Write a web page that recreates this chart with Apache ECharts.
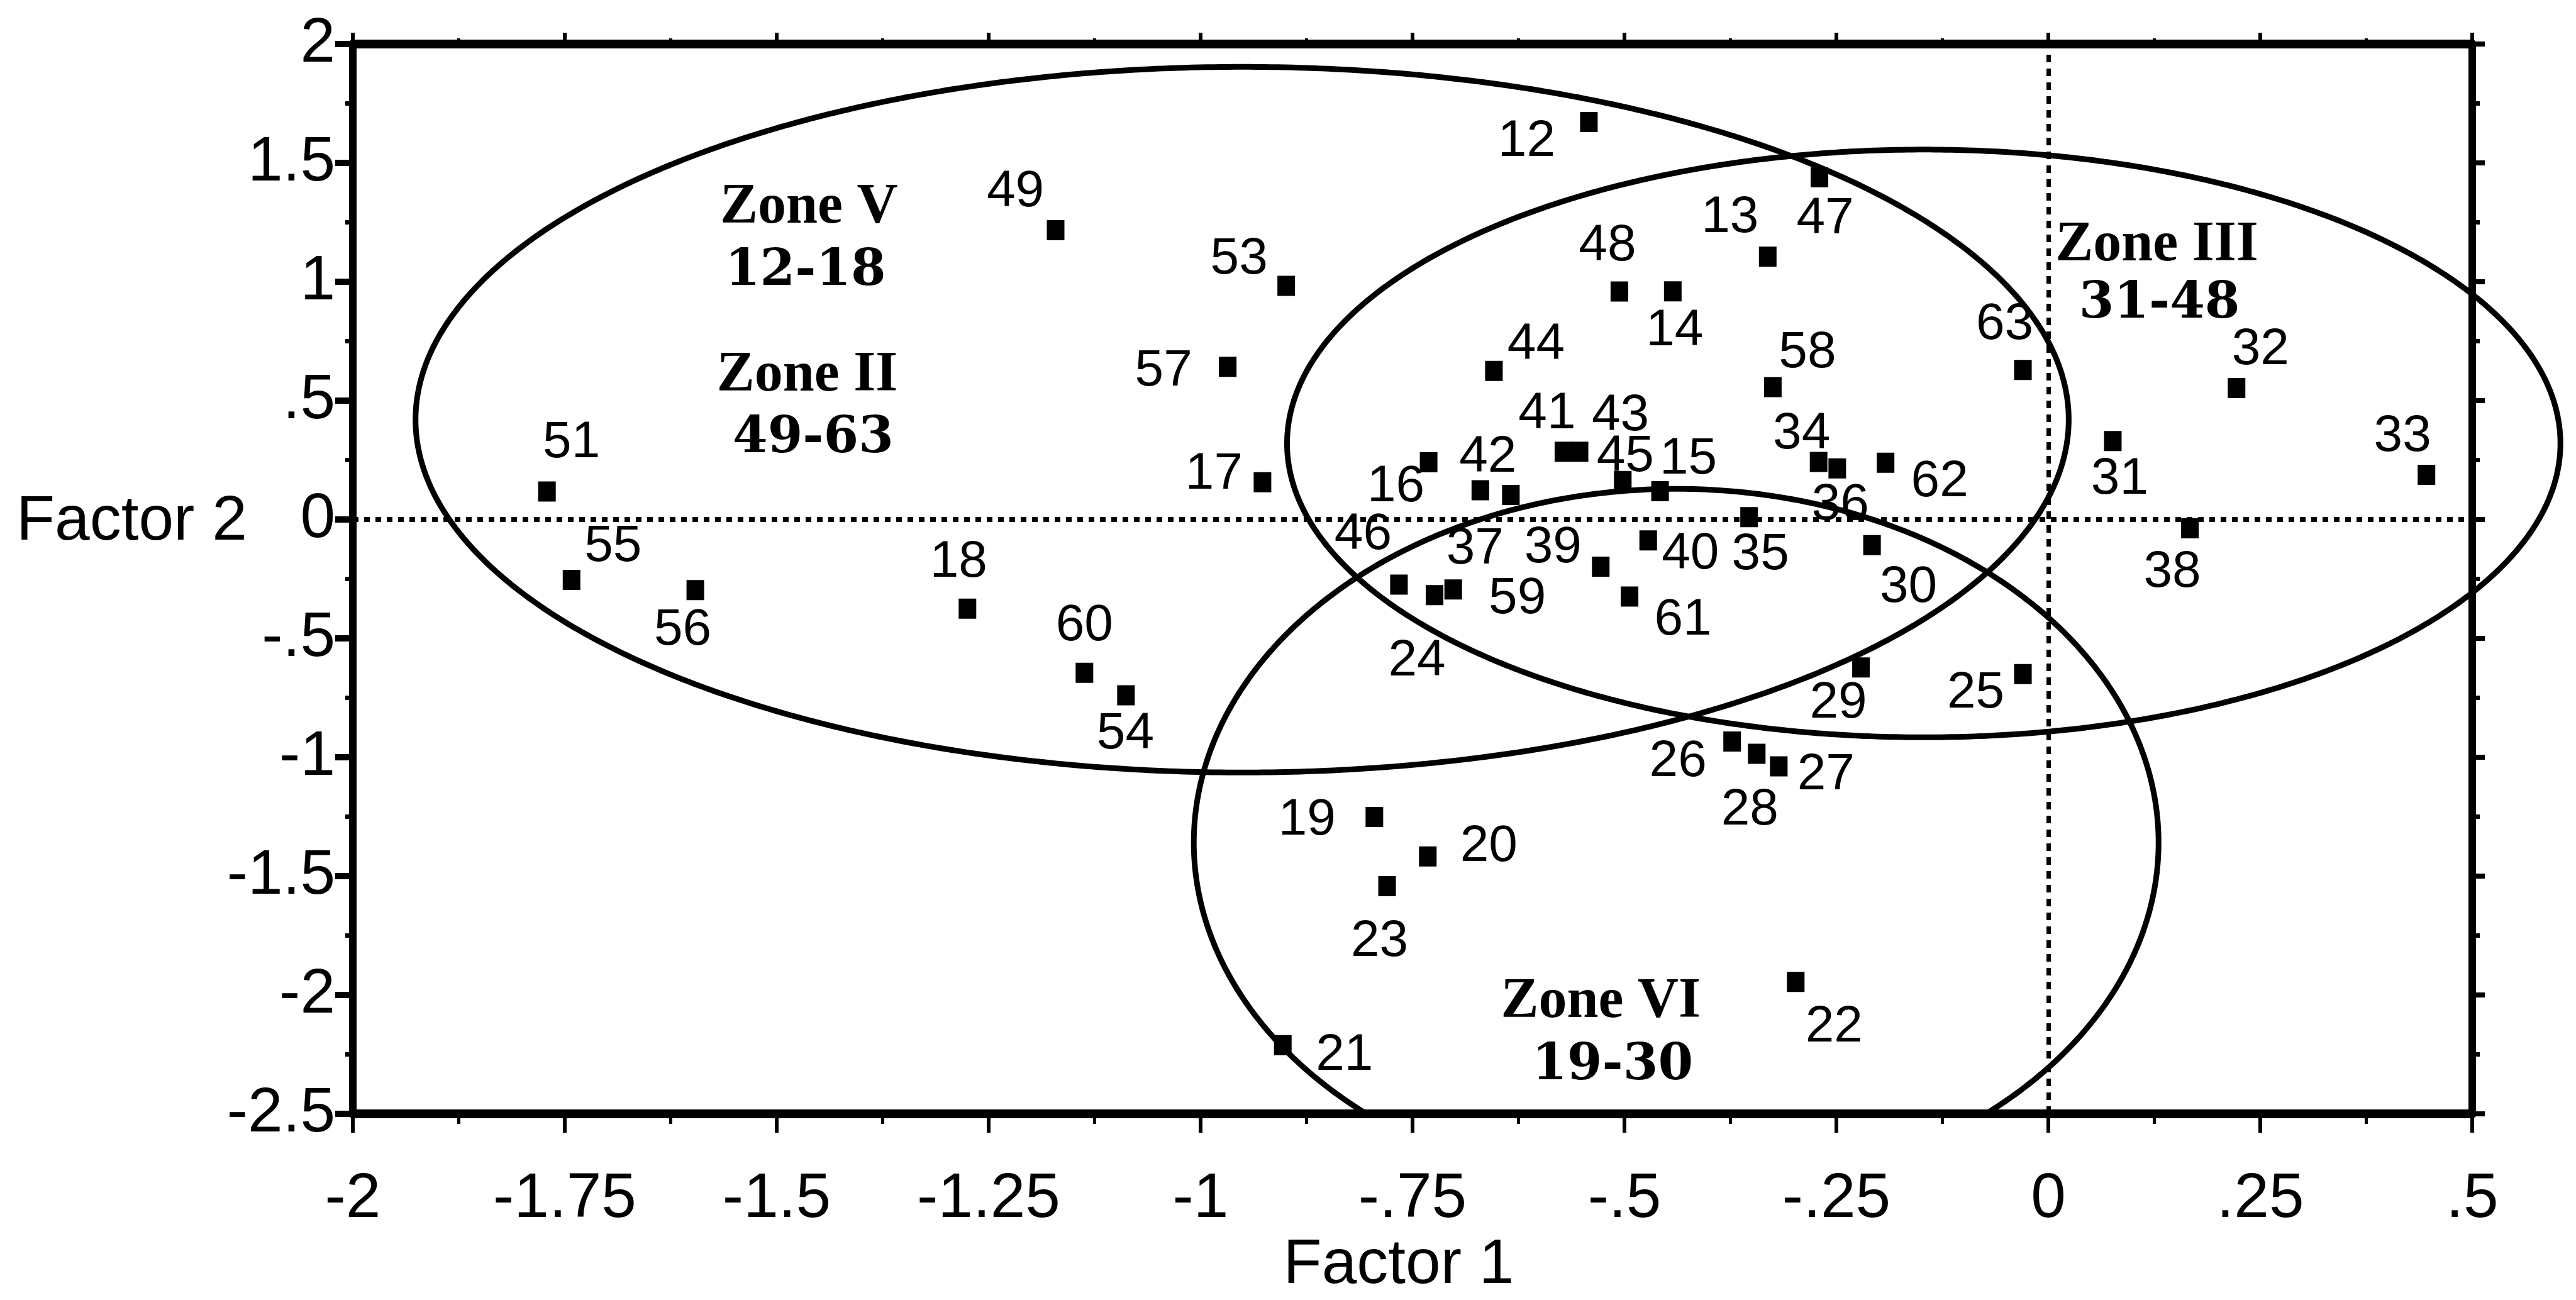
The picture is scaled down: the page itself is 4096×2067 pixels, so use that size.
<!DOCTYPE html>
<html>
<head>
<meta charset="utf-8">
<script src="https://cdn.jsdelivr.net/npm/echarts@6/dist/echarts.min.js"></script>
<style>
  html, body { margin: 0; padding: 0; background: #fff; }
  #chart { width: 4096px; height: 2067px; }
</style>
</head>
<body>
<div id="chart"></div>
<script>
// ---- data ----
const pointIds = [12,13,14,15,16,17,18,19,20,21,22,23,24,25,26,27,28,29,30,31,32,33,34,35,36,37,38,39,40,41,42,43,44,45,46,47,48,49,51,53,54,55,56,57,58,59,60,61,62,63];
const factor1 = [-0.542,-0.331,-0.443,-0.458,-0.731,-0.927,-1.275,-0.795,-0.732,-0.903,-0.298,-0.780,-0.724,-0.030,-0.373,-0.318,-0.344,-0.221,-0.208,0.076,0.222,0.446,-0.271,-0.353,-0.249,-0.634,0.167,-0.528,-0.472,-0.572,-0.670,-0.553,-0.654,-0.502,-0.766,-0.270,-0.506,-1.171,-1.771,-0.899,-1.088,-1.742,-1.596,-0.968,-0.325,-0.702,-1.137,-0.494,-0.192,-0.030];
const factor2 = [1.672,1.106,0.960,0.119,0.241,0.157,-0.375,-1.251,-1.417,-2.211,-1.945,-1.542,-0.318,-0.650,-0.934,-1.038,-0.985,-0.622,-0.108,0.330,0.553,0.188,0.242,0.010,0.215,0.103,-0.037,-0.198,-0.088,0.285,0.123,0.285,0.625,0.162,-0.274,1.440,0.959,1.217,0.118,0.983,-0.739,-0.254,-0.297,0.642,0.557,-0.294,-0.645,-0.324,0.239,0.629];

// zone ellipses: [centre factor1, centre factor2, half-width, half-height]
const zoneEllipses = [
  [-0.951, 0.420, 0.975, 1.484],
  [-0.147, 0.320, 0.751, 1.236],
  [-0.439, -1.359, 0.569, 1.488]
];
const zoneLabels = ['Zone V', '12-18', 'Zone II', '49-63', 'Zone III', '31-48', 'Zone VI', '19-30'];
const zoneLabelX = [-1.462, -1.466, -1.464, -1.457, 0.128, 0.131, -0.528, -0.514];
const zoneLabelY = [1.309, 1.042, 0.603, 0.339, 1.151, 0.903, -2.030, -2.300];

// ---- styling (label offsets in px, per point) ----
const labelOffsets = [[-99,31],[-60,-62],[3,63],[45,-51],[-52,39],[-77,-12],[-14,-73],[-107,5],[97,-15],[98,17],[61,72],[-12,88],[-28,105],[-75,31],[-86,32],[75,14],[-11,90],[-36,57],[58,68],[11,61],[38,-61],[-38,-61],[-27,-44],[18,60],[5,59],[-57,86],[-28,70],[-76,-30],[67,22],[-26,-60],[12,-52],[65,-57],[67,-41],[4,-38],[-57,-79],[9,67],[-19,-72],[-64,-61],[39,-77],[-75,-42],[-1,62],[66,-53],[-20,64],[-102,7],[55,-54],[102,15],[0,-74],[85,38],[86,31],[-29,-72]];

const X_MIN = -2, X_MAX = 0.5, X_STEP = 0.25;
const Y_MIN = -2.5, Y_MAX = 2, Y_STEP = 0.5;

function fmt(v) {
  const r = Math.round(v * 1000) / 1000;
  if (r === 0) return '0';
  return String(r).replace(/^(-?)0\./, '$1.');
}

const tickFont = 'Liberation Sans, Arial, sans-serif';
const black = '#000';

const chart = echarts.init(document.getElementById('chart'), null, { renderer: 'canvas' });

const pointData = pointIds.map((id, i) => ({
  value: [factor1[i], factor2[i], id],
  label: { offset: labelOffsets[i] }
}));

const zoneData = zoneLabels.map((t, i) => ({
  value: [zoneLabelX[i], zoneLabelY[i], t],
  label: t.indexOf('Zone') === 0
    ? { fontFamily: 'Liberation Serif, serif', fontSize: 90, fontWeight: 'bold' }
    : { fontFamily: 'DejaVu Serif, serif', fontSize: 80, fontWeight: 'bold' }
}));

function axisBase(extra) {
  return Object.assign({
    type: 'value',
    splitLine: { show: false },
    axisLine: { show: true, onZero: false, lineStyle: { color: black, width: 12 } },
  }, extra);
}

const option = {
  animation: false,
  backgroundColor: '#fff',
  grid: { left: 561, right: 165, top: 70, bottom: 248, containLabel: false },
  xAxis: [
    axisBase({
      position: 'bottom', min: X_MIN, max: X_MAX, interval: X_STEP,
      axisLine: { show: true, onZero: false, lineStyle: { color: black, width: 14 } },
      axisTick: { show: true, length: 30, lineStyle: { color: black, width: 6 } },
      minorTick: { show: true, splitNumber: 2, length: 16, lineStyle: { color: black, width: 5 } },
      axisLabel: { show: true, margin: 86, color: black, fontSize: 100, fontFamily: tickFont, formatter: fmt },
      name: 'Factor 1', nameLocation: 'middle', nameGap: 138,
      nameTextStyle: { color: black, fontSize: 100, fontFamily: tickFont, padding: [0, 44, 0, 0] }
    }),
    axisBase({
      position: 'top', min: X_MIN, max: X_MAX, interval: X_STEP,
      axisLine: { show: true, onZero: false, lineStyle: { color: black, width: 14 } },
      axisTick: { show: true, length: 18, lineStyle: { color: black, width: 6 } },
      minorTick: { show: true, splitNumber: 2, length: 9, lineStyle: { color: black, width: 5 } },
      axisLabel: { show: false }
    })
  ],
  yAxis: [
    axisBase({
      position: 'left', min: Y_MIN, max: Y_MAX, interval: Y_STEP,
      axisTick: { show: true, length: 28, lineStyle: { color: black, width: 10 } },
      minorTick: { show: true, splitNumber: 2, length: 12, lineStyle: { color: black, width: 7 } },
      axisLabel: { show: true, margin: 28, color: black, fontSize: 100, fontFamily: tickFont, formatter: fmt, padding: [0, 0, 18, 0] }
    }),
    axisBase({
      position: 'right', min: Y_MIN, max: Y_MAX, interval: Y_STEP,
      axisTick: { show: true, length: 20, lineStyle: { color: black, width: 8 } },
      minorTick: { show: true, splitNumber: 2, length: 12, lineStyle: { color: black, width: 7 } },
      axisLabel: { show: false }
    })
  ],
  graphic: [{
    type: 'text', left: 26, top: 830 - 50,
    style: { text: 'Factor 2', fill: black, font: '100px Liberation Sans, Arial, sans-serif' }
  }],
  series: [
    {
      type: 'custom',
      coordinateSystem: 'cartesian2d',
      xAxisIndex: 0, yAxisIndex: 0,
      clip: false, silent: true, z: 2,
      encode: { x: 0, y: 1 },
      data: zoneEllipses,
      renderItem: function (params, api) {
        const cx = api.value(0), cy = api.value(1), a = api.value(2), b = api.value(3);
        const pts = [];
        const n = 720;
        for (let i = 0; i <= n; i++) {
          const t = -Math.PI / 2 + i * 2 * Math.PI / n;
          const x = cx + a * Math.cos(t), y = cy + b * Math.sin(t);
          if (y < Y_MIN) continue;
          pts.push(api.coord([x, y]));
        }
        return {
          type: 'polyline',
          shape: { points: pts },
          style: { stroke: black, lineWidth: 9, fill: null }
        };
      }
    },
    {
      type: 'scatter',
      xAxisIndex: 0, yAxisIndex: 0,
      z: 3, silent: true,
      symbol: 'rect', symbolSize: [28, 32],
      itemStyle: { color: black, opacity: 1 },
      label: {
        show: true, position: 'inside', color: black,
        fontSize: 82, fontFamily: tickFont,
        formatter: p => String(p.value[2])
      },
      emphasis: { disabled: true },
      data: pointData,
      markLine: {
        silent: true, symbol: 'none', animation: false,
        label: { show: false },
        data: [
          { yAxis: 0, lineStyle: { color: black, width: 8, type: [9, 9], opacity: 1 } },
          { xAxis: 0, lineStyle: { color: black, width: 7, type: [12, 10], opacity: 1 } }
        ]
      }
    },
    {
      type: 'scatter',
      xAxisIndex: 0, yAxisIndex: 0,
      z: 4, silent: true,
      symbol: 'circle', symbolSize: 2,
      itemStyle: { color: 'rgba(0,0,0,0)', opacity: 1 },
      label: {
        show: true, position: 'inside', color: black,
        formatter: p => p.value[2]
      },
      emphasis: { disabled: true },
      data: zoneData
    }
  ]
};

chart.setOption(option);
</script>
</body>
</html>
